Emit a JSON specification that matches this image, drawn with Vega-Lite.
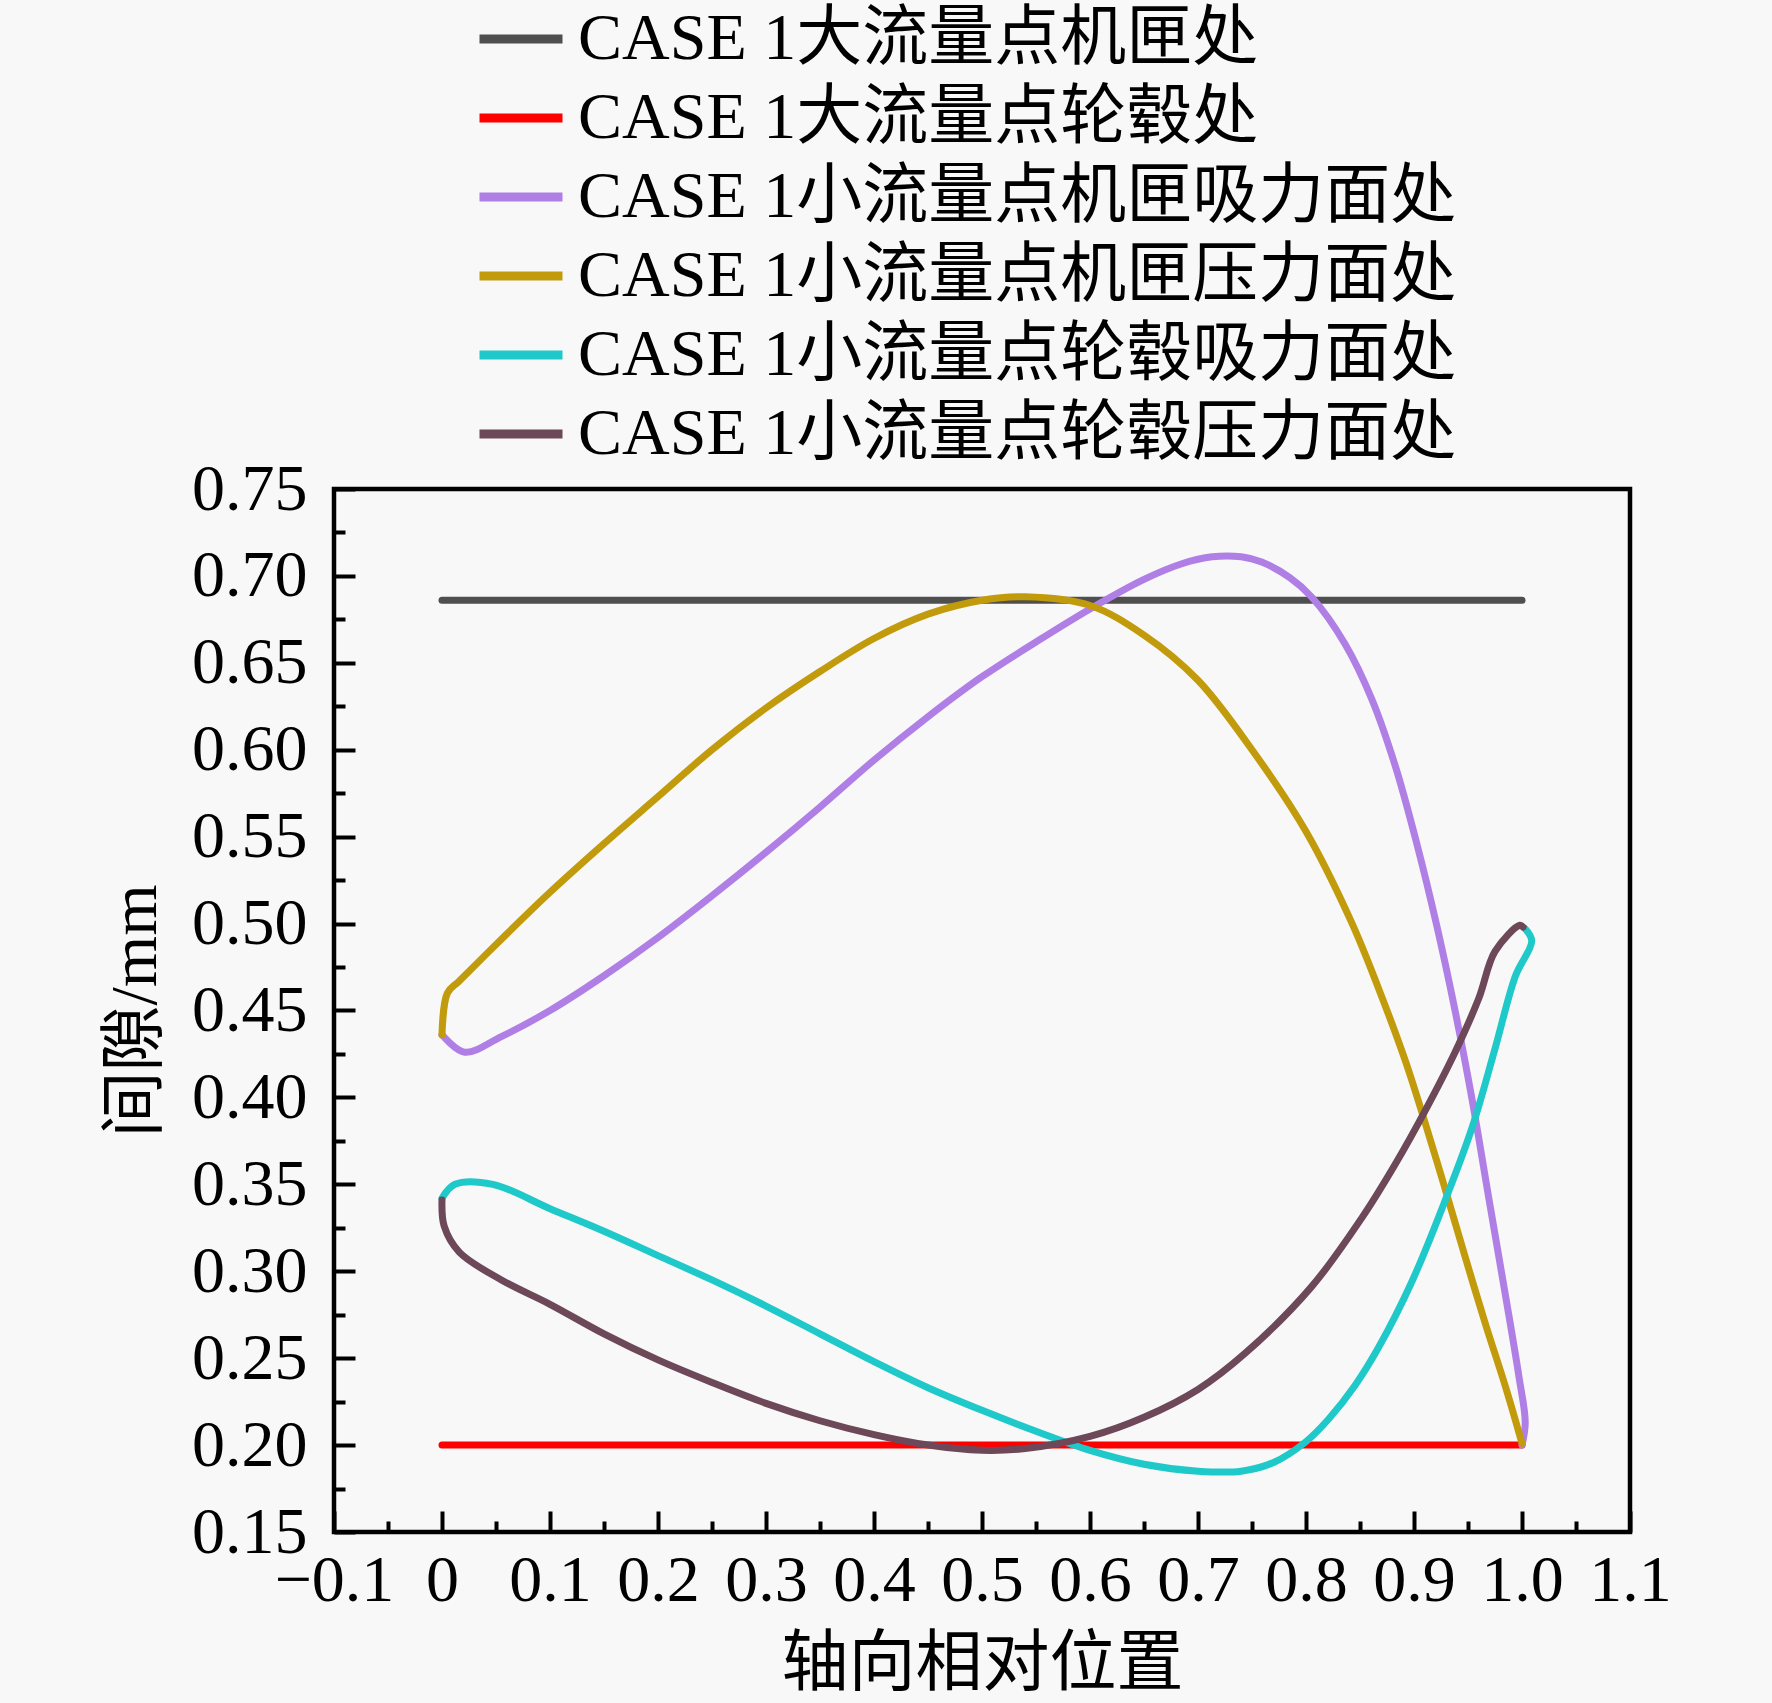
{
  "$schema": "https://vega.github.io/schema/vega-lite/v6.json",
  "width": 1296,
  "height": 1043,
  "autosize": {"type": "none"},
  "padding": {"left": 334, "top": 489, "right": 142, "bottom": 171},
  "background": "#f8f8f8",
  "config": {
    "view": {"stroke": "black", "strokeWidth": 4.5},
    "font": "Liberation Serif, Noto Sans CJK SC"
  },
  "data": {
    "values": [
      {"series": "CASE 1大流量点机匣处", "i": 0, "x": 0, "y": 0.686},
      {"series": "CASE 1大流量点机匣处", "i": 1, "x": 0.5, "y": 0.686},
      {"series": "CASE 1大流量点机匣处", "i": 2, "x": 1.0, "y": 0.686},

      {"series": "CASE 1大流量点轮毂处", "i": 0, "x": 0, "y": 0.2},
      {"series": "CASE 1大流量点轮毂处", "i": 1, "x": 0.5, "y": 0.2},
      {"series": "CASE 1大流量点轮毂处", "i": 2, "x": 1.0, "y": 0.2},

      {"series": "CASE 1小流量点机匣吸力面处", "i": 0, "x": 0, "y": 0.436},
      {"series": "CASE 1小流量点机匣吸力面处", "i": 1, "x": 0.021, "y": 0.426},
      {"series": "CASE 1小流量点机匣吸力面处", "i": 2, "x": 0.055, "y": 0.435},
      {"series": "CASE 1小流量点机匣吸力面处", "i": 3, "x": 0.1, "y": 0.45},
      {"series": "CASE 1小流量点机匣吸力面处", "i": 4, "x": 0.15, "y": 0.47},
      {"series": "CASE 1小流量点机匣吸力面处", "i": 5, "x": 0.2, "y": 0.492},
      {"series": "CASE 1小流量点机匣吸力面处", "i": 6, "x": 0.25, "y": 0.516},
      {"series": "CASE 1小流量点机匣吸力面处", "i": 7, "x": 0.3, "y": 0.541},
      {"series": "CASE 1小流量点机匣吸力面处", "i": 8, "x": 0.35, "y": 0.567},
      {"series": "CASE 1小流量点机匣吸力面处", "i": 9, "x": 0.4, "y": 0.594},
      {"series": "CASE 1小流量点机匣吸力面处", "i": 10, "x": 0.45, "y": 0.619},
      {"series": "CASE 1小流量点机匣吸力面处", "i": 11, "x": 0.5, "y": 0.642},
      {"series": "CASE 1小流量点机匣吸力面处", "i": 12, "x": 0.55, "y": 0.662},
      {"series": "CASE 1小流量点机匣吸力面处", "i": 13, "x": 0.6, "y": 0.681},
      {"series": "CASE 1小流量点机匣吸力面处", "i": 14, "x": 0.65, "y": 0.698},
      {"series": "CASE 1小流量点机匣吸力面处", "i": 15, "x": 0.685, "y": 0.707},
      {"series": "CASE 1小流量点机匣吸力面处", "i": 16, "x": 0.713, "y": 0.711},
      {"series": "CASE 1小流量点机匣吸力面处", "i": 17, "x": 0.74, "y": 0.711},
      {"series": "CASE 1小流量点机匣吸力面处", "i": 18, "x": 0.759, "y": 0.708},
      {"series": "CASE 1小流量点机匣吸力面处", "i": 19, "x": 0.785, "y": 0.699},
      {"series": "CASE 1小流量点机匣吸力面处", "i": 20, "x": 0.805, "y": 0.688},
      {"series": "CASE 1小流量点机匣吸力面处", "i": 21, "x": 0.836, "y": 0.661},
      {"series": "CASE 1小流量点机匣吸力面处", "i": 22, "x": 0.861, "y": 0.629},
      {"series": "CASE 1小流量点机匣吸力面处", "i": 23, "x": 0.883, "y": 0.59},
      {"series": "CASE 1小流量点机匣吸力面处", "i": 24, "x": 0.903, "y": 0.545},
      {"series": "CASE 1小流量点机匣吸力面处", "i": 25, "x": 0.921, "y": 0.499},
      {"series": "CASE 1小流量点机匣吸力面处", "i": 26, "x": 0.938, "y": 0.45},
      {"series": "CASE 1小流量点机匣吸力面处", "i": 27, "x": 0.954, "y": 0.398},
      {"series": "CASE 1小流量点机匣吸力面处", "i": 28, "x": 0.969, "y": 0.343},
      {"series": "CASE 1小流量点机匣吸力面处", "i": 29, "x": 0.985, "y": 0.285},
      {"series": "CASE 1小流量点机匣吸力面处", "i": 30, "x": 0.997, "y": 0.24},
      {"series": "CASE 1小流量点机匣吸力面处", "i": 31, "x": 1.003, "y": 0.213},
      {"series": "CASE 1小流量点机匣吸力面处", "i": 32, "x": 1.0, "y": 0.2},

      {"series": "CASE 1小流量点机匣压力面处", "i": 0, "x": 0, "y": 0.436},
      {"series": "CASE 1小流量点机匣压力面处", "i": 1, "x": 0.005, "y": 0.46},
      {"series": "CASE 1小流量点机匣压力面处", "i": 2, "x": 0.016, "y": 0.467},
      {"series": "CASE 1小流量点机匣压力面处", "i": 3, "x": 0.055, "y": 0.491},
      {"series": "CASE 1小流量点机匣压力面处", "i": 4, "x": 0.1, "y": 0.518},
      {"series": "CASE 1小流量点机匣压力面处", "i": 5, "x": 0.15, "y": 0.546},
      {"series": "CASE 1小流量点机匣压力面处", "i": 6, "x": 0.2, "y": 0.573},
      {"series": "CASE 1小流量点机匣压力面处", "i": 7, "x": 0.25, "y": 0.6},
      {"series": "CASE 1小流量点机匣压力面处", "i": 8, "x": 0.3, "y": 0.624},
      {"series": "CASE 1小流量点机匣压力面处", "i": 9, "x": 0.35, "y": 0.645},
      {"series": "CASE 1小流量点机匣压力面处", "i": 10, "x": 0.4, "y": 0.664},
      {"series": "CASE 1小流量点机匣压力面处", "i": 11, "x": 0.45, "y": 0.678},
      {"series": "CASE 1小流量点机匣压力面处", "i": 12, "x": 0.5, "y": 0.686},
      {"series": "CASE 1小流量点机匣压力面处", "i": 13, "x": 0.54, "y": 0.688},
      {"series": "CASE 1小流量点机匣压力面处", "i": 14, "x": 0.6, "y": 0.683},
      {"series": "CASE 1小流量点机匣压力面处", "i": 15, "x": 0.65, "y": 0.666},
      {"series": "CASE 1小流量点机匣压力面处", "i": 16, "x": 0.7, "y": 0.64},
      {"series": "CASE 1小流量点机匣压力面处", "i": 17, "x": 0.75, "y": 0.6},
      {"series": "CASE 1小流量点机匣压力面处", "i": 18, "x": 0.8, "y": 0.553},
      {"series": "CASE 1小流量点机匣压力面处", "i": 19, "x": 0.842, "y": 0.501},
      {"series": "CASE 1小流量点机匣压力面处", "i": 20, "x": 0.867, "y": 0.463},
      {"series": "CASE 1小流量点机匣压力面处", "i": 21, "x": 0.892, "y": 0.421},
      {"series": "CASE 1小流量点机匣压力面处", "i": 22, "x": 0.91, "y": 0.386},
      {"series": "CASE 1小流量点机匣压力面处", "i": 23, "x": 0.929, "y": 0.347},
      {"series": "CASE 1小流量点机匣压力面处", "i": 24, "x": 0.947, "y": 0.309},
      {"series": "CASE 1小流量点机匣压力面处", "i": 25, "x": 0.966, "y": 0.27},
      {"series": "CASE 1小流量点机匣压力面处", "i": 26, "x": 0.985, "y": 0.233},
      {"series": "CASE 1小流量点机匣压力面处", "i": 27, "x": 1.0, "y": 0.201},

      {"series": "CASE 1小流量点轮毂吸力面处", "i": 0, "x": 0, "y": 0.342},
      {"series": "CASE 1小流量点轮毂吸力面处", "i": 1, "x": 0.012, "y": 0.35},
      {"series": "CASE 1小流量点轮毂吸力面处", "i": 2, "x": 0.047, "y": 0.35},
      {"series": "CASE 1小流量点轮毂吸力面处", "i": 3, "x": 0.1, "y": 0.336},
      {"series": "CASE 1小流量点轮毂吸力面处", "i": 4, "x": 0.15, "y": 0.323},
      {"series": "CASE 1小流量点轮毂吸力面处", "i": 5, "x": 0.2, "y": 0.309},
      {"series": "CASE 1小流量点轮毂吸力面处", "i": 6, "x": 0.25, "y": 0.295},
      {"series": "CASE 1小流量点轮毂吸力面处", "i": 7, "x": 0.3, "y": 0.28},
      {"series": "CASE 1小流量点轮毂吸力面处", "i": 8, "x": 0.35, "y": 0.264},
      {"series": "CASE 1小流量点轮毂吸力面处", "i": 9, "x": 0.4, "y": 0.248},
      {"series": "CASE 1小流量点轮毂吸力面处", "i": 10, "x": 0.45, "y": 0.233},
      {"series": "CASE 1小流量点轮毂吸力面处", "i": 11, "x": 0.5, "y": 0.22},
      {"series": "CASE 1小流量点轮毂吸力面处", "i": 12, "x": 0.55, "y": 0.208},
      {"series": "CASE 1小流量点轮毂吸力面处", "i": 13, "x": 0.6, "y": 0.197},
      {"series": "CASE 1小流量点轮毂吸力面处", "i": 14, "x": 0.65, "y": 0.189},
      {"series": "CASE 1小流量点轮毂吸力面处", "i": 15, "x": 0.7, "y": 0.185},
      {"series": "CASE 1小流量点轮毂吸力面处", "i": 16, "x": 0.74, "y": 0.185},
      {"series": "CASE 1小流量点轮毂吸力面处", "i": 17, "x": 0.77, "y": 0.19},
      {"series": "CASE 1小流量点轮毂吸力面处", "i": 18, "x": 0.8, "y": 0.202},
      {"series": "CASE 1小流量点轮毂吸力面处", "i": 19, "x": 0.821, "y": 0.215},
      {"series": "CASE 1小流量点轮毂吸力面处", "i": 20, "x": 0.845, "y": 0.234},
      {"series": "CASE 1小流量点轮毂吸力面处", "i": 21, "x": 0.867, "y": 0.256},
      {"series": "CASE 1小流量点轮毂吸力面处", "i": 22, "x": 0.898, "y": 0.294},
      {"series": "CASE 1小流量点轮毂吸力面处", "i": 23, "x": 0.929, "y": 0.341},
      {"series": "CASE 1小流量点轮毂吸力面处", "i": 24, "x": 0.954, "y": 0.383},
      {"series": "CASE 1小流量点轮毂吸力面处", "i": 25, "x": 0.975, "y": 0.428},
      {"series": "CASE 1小流量点轮毂吸力面处", "i": 26, "x": 0.994, "y": 0.47},
      {"series": "CASE 1小流量点轮毂吸力面处", "i": 27, "x": 1.009, "y": 0.49},
      {"series": "CASE 1小流量点轮毂吸力面处", "i": 28, "x": 1.003, "y": 0.497},

      {"series": "CASE 1小流量点轮毂压力面处", "i": 0, "x": 0, "y": 0.341},
      {"series": "CASE 1小流量点轮毂压力面处", "i": 1, "x": 0.002, "y": 0.326},
      {"series": "CASE 1小流量点轮毂压力面处", "i": 2, "x": 0.016, "y": 0.311},
      {"series": "CASE 1小流量点轮毂压力面处", "i": 3, "x": 0.055, "y": 0.295},
      {"series": "CASE 1小流量点轮毂压力面处", "i": 4, "x": 0.1, "y": 0.281},
      {"series": "CASE 1小流量点轮毂压力面处", "i": 5, "x": 0.15, "y": 0.264},
      {"series": "CASE 1小流量点轮毂压力面处", "i": 6, "x": 0.2, "y": 0.249},
      {"series": "CASE 1小流量点轮毂压力面处", "i": 7, "x": 0.25, "y": 0.236},
      {"series": "CASE 1小流量点轮毂压力面处", "i": 8, "x": 0.3, "y": 0.224},
      {"series": "CASE 1小流量点轮毂压力面处", "i": 9, "x": 0.35, "y": 0.214},
      {"series": "CASE 1小流量点轮毂压力面处", "i": 10, "x": 0.4, "y": 0.206},
      {"series": "CASE 1小流量点轮毂压力面处", "i": 11, "x": 0.45, "y": 0.2},
      {"series": "CASE 1小流量点轮毂压力面处", "i": 12, "x": 0.5, "y": 0.197},
      {"series": "CASE 1小流量点轮毂压力面处", "i": 13, "x": 0.54, "y": 0.198},
      {"series": "CASE 1小流量点轮毂压力面处", "i": 14, "x": 0.6, "y": 0.205},
      {"series": "CASE 1小流量点轮毂压力面处", "i": 15, "x": 0.65, "y": 0.216},
      {"series": "CASE 1小流量点轮毂压力面处", "i": 16, "x": 0.7, "y": 0.232},
      {"series": "CASE 1小流量点轮毂压力面处", "i": 17, "x": 0.744, "y": 0.253},
      {"series": "CASE 1小流量点轮毂压力面处", "i": 18, "x": 0.805, "y": 0.291},
      {"series": "CASE 1小流量点轮毂压力面处", "i": 19, "x": 0.852, "y": 0.331},
      {"series": "CASE 1小流量点轮毂压力面处", "i": 20, "x": 0.883, "y": 0.362},
      {"series": "CASE 1小流量点轮毂压力面处", "i": 21, "x": 0.91, "y": 0.392},
      {"series": "CASE 1小流量点轮毂压力面处", "i": 22, "x": 0.938, "y": 0.426},
      {"series": "CASE 1小流量点轮毂压力面处", "i": 23, "x": 0.96, "y": 0.457},
      {"series": "CASE 1小流量点轮毂压力面处", "i": 24, "x": 0.975, "y": 0.484},
      {"series": "CASE 1小流量点轮毂压力面处", "i": 25, "x": 0.998, "y": 0.499},
      {"series": "CASE 1小流量点轮毂压力面处", "i": 26, "x": 1.001, "y": 0.498}
    ]
  },
  "mark": {"type": "line", "strokeWidth": 7, "interpolate": "catmull-rom", "strokeJoin": "round", "strokeCap": "round"},
  "encoding": {
    "x": {
      "field": "x",
      "type": "quantitative",
      "scale": {"domain": [-0.1, 1.1], "nice": false, "zero": false},
      "axis": {
        "title": "轴向相对位置",
        "values": [-0.1, -0.05, 0, 0.05, 0.1, 0.15, 0.2, 0.25, 0.3, 0.35, 0.4, 0.45, 0.5, 0.55, 0.6, 0.65, 0.7, 0.75, 0.8, 0.85, 0.9, 0.95, 1.0, 1.05, 1.1],
        "labelExpr": "round(datum.value * 100) % 10 == 0 ? (datum.value == 0 ? '0' : format(datum.value, '.1f')) : ''",
        "domain": false,
        "grid": false,
        "ticks": true,
        "tickSize": -21,
        "tickColor": "black",
        "tickWidth": 4,
        "tickDash": {"condition": {"test": "round(datum.value * 100) % 10 != 0", "value": [11, 30]}, "value": []},
        "labelFont": "Liberation Serif",
        "labelFontSize": 66,
        "labelColor": "black",
        "labelPadding": 37,
        "labelOverlap": false,
        "labelFlush": false,
        "titleFont": "Liberation Serif, Noto Sans CJK SC",
        "titleFontSize": 67,
        "titleFontWeight": "normal",
        "titleColor": "black",
        "titlePadding": 18
      }
    },
    "y": {
      "field": "y",
      "type": "quantitative",
      "scale": {"domain": [0.15, 0.75], "nice": false, "zero": false},
      "axis": {
        "title": "间隙/mm",
        "values": [0.15, 0.175, 0.2, 0.225, 0.25, 0.275, 0.3, 0.325, 0.35, 0.375, 0.4, 0.425, 0.45, 0.475, 0.5, 0.525, 0.55, 0.575, 0.6, 0.625, 0.65, 0.675, 0.7, 0.725, 0.75],
        "labelExpr": "round(datum.value * 1000) % 50 == 0 ? format(datum.value, '.2f') : ''",
        "domain": false,
        "grid": false,
        "ticks": true,
        "tickSize": -21,
        "tickColor": "black",
        "tickWidth": 4,
        "tickDash": {"condition": {"test": "round(datum.value * 1000) % 50 != 0", "value": [11, 30]}, "value": []},
        "labelFont": "Liberation Serif",
        "labelFontSize": 66,
        "labelColor": "black",
        "labelPadding": 48,
        "labelOverlap": false,
        "labelFlush": false,
        "titleFont": "Liberation Serif, Noto Sans CJK SC",
        "titleFontSize": 66,
        "titleFontWeight": "normal",
        "titleColor": "black",
        "titlePadding": 22
      }
    },
    "color": {
      "field": "series",
      "type": "nominal",
      "scale": {
        "domain": ["CASE 1大流量点机匣处", "CASE 1大流量点轮毂处", "CASE 1小流量点机匣吸力面处", "CASE 1小流量点机匣压力面处", "CASE 1小流量点轮毂吸力面处", "CASE 1小流量点轮毂压力面处"],
        "range": ["#4f4f4f", "#ff0000", "#b07fe6", "#c29b0c", "#1fc9c9", "#6c4858"]
      },
      "legend": {
        "title": null,
        "orient": "none",
        "legendX": 141,
        "legendY": -496,
        "padding": 0,
        "symbolType": "stroke",
        "symbolSize": 6889,
        "symbolStrokeWidth": 9,
        "labelFont": "Liberation Serif, Noto Sans CJK SC",
        "labelFontSize": 66,
        "labelColor": "black",
        "labelOffset": 11,
        "labelLimit": 1200,
        "rowPadding": -8
      }
    },
    "order": {"field": "i", "type": "quantitative"}
  }
}
